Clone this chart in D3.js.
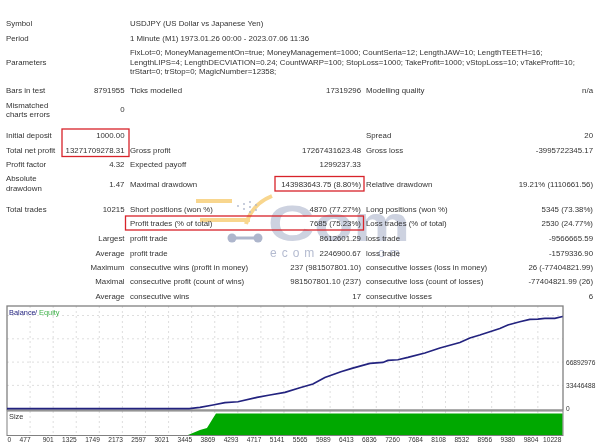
<!DOCTYPE html>
<html>
<head>
<meta charset="utf-8">
<script src="https://cdn.jsdelivr.net/npm/d3@7"></script>
<style>
body { margin: 0; background: #fff; }
svg { display: block; }
text { font-family: "Liberation Sans", sans-serif; font-size: 7.85px; fill: #333; }
.tick text { font-size: 6.6px; }
</style>
</head>
<body>
<svg id="report" width="600" height="446"></svg>
<script>
// report table, one array per kind of row
let headerRows = [
    ["Symbol", "USDJPY (US Dollar vs Japanese Yen)", 23],
    ["Period", "1 Minute (M1) 1973.01.26 00:00 - 2023.07.06 11:36", 38]
]
let paramLines = [
    "FixLot=0; MoneyManagementOn=true; MoneyManagement=1000; CountSeria=12; LengthJAW=10; LengthTEETH=16;",
    "LengthLIPS=4; LengthDECVIATION=0.24; CountWARP=100; StopLoss=1000; TakeProfit=1000; vStopLoss=10; vTakeProfit=10;",
    "trStart=0; trStop=0; MagicNumber=12358;"
]
// label, value, label, value, label, value, baseline
let statRows = [
    ["Bars in test", "8791955", "Ticks modelled", "17319296", "Modelling quality", "n/a", 93],
    ["", "0", "", "", "", "", 112],
    ["Initial deposit", "1000.00", "", "", "Spread", "20", 138],
    ["Total net profit", "13271709278.31", "Gross profit", "17267431623.48", "Gross loss", "-3995722345.17", 152.5],
    ["Profit factor", "4.32", "Expected payoff", "1299237.33", "", "", 167],
    ["", "1.47", "Maximal drawdown", "143983643.75 (8.80%)", "Relative drawdown", "19.21% (1110661.56)", 186.5],
    ["Total trades", "10215", "Short positions (won %)", "4870 (77.27%)", "Long positions (won %)", "5345 (73.38%)", 212],
    ["", "", "Profit trades (% of total)", "7685 (75.23%)", "Loss trades (% of total)", "2530 (24.77%)", 226]
]
let twoLineLabels = [
    ["Mismatched", 107.5], ["charts errors", 117],
    ["Absolute", 181], ["drawdown", 190.5]
]
// these rows have their first label right aligned
let tradeRows = [
    ["Largest", "profit trade", "8612601.29", "loss trade", "-9566665.59", 241],
    ["Average", "profit trade", "2246900.67", "loss trade", "-1579336.90", 255.5],
    ["Maximum", "consecutive wins (profit in money)", "237 (981507801.10)", "consecutive losses (loss in money)", "26 (-77404821.99)", 270],
    ["Maximal", "consecutive profit (count of wins)", "981507801.10 (237)", "consecutive loss (count of losses)", "-77404821.99 (26)", 284],
    ["Average", "consecutive wins", "17", "consecutive losses", "6", 299]
]

// balance curve
let tradeIndex = [0, 3400, 3598, 3837, 4057, 4296, 4645, 4883, 5159, 5434, 5673, 5893, 6187, 6389, 6719, 6958, 7050, 7233, 7417, 7729, 8005, 8372, 8556, 8739, 9106, 9253, 9473, 9657, 9804, 9932, 10116, 10260]
let balance = [1000, 1000, 1900000, 5300000, 8600000, 10000000, 16200000, 19700000, 23400000, 30100000, 35400000, 44900000, 53100000, 57800000, 65000000, 66400000, 69300000, 70300000, 73600000, 79900000, 87100000, 95100000, 101500000, 105800000, 115200000, 120100000, 124800000, 128100000, 128700000, 129600000, 129600000, 132400000]
// size panel, share of the full height
let sizeIndex = [3378, 3598, 3727, 3837, 3892, 10260]
let sizeValues = [0, 23, 33, 78, 100, 100]

let xTicks = [0, 477, 901, 1325, 1749, 2173, 2597, 3021, 3445, 3869, 4293, 4717, 5141, 5565, 5989, 6413, 6836, 7260, 7684, 8108, 8532, 8956, 9380, 9804, 10228]
let yTicks = [0, 33446488, 66892976]
let yGrid = [33446488, 66892976, 100339464, 133785952]

let svg = d3.select("#report")
let page = svg.append("g").style("filter", "blur(0.35px)")

// columns of the table
let col = { label1: 6, value1: 124.5, label2: 130, value2: 361, label3: 366, value3: 593 }

function put(x, y, str, anchor) {
    return page.append("text").attr("x", x).attr("y", y).attr("text-anchor", anchor || "start").text(str)
}

// watermark goes under the text
let mark = page.append("g")
mark.append("path")
    .attr("d", "M196 201H232M200 220H250M272 196Q252 204 246 224")
    .attr("fill", "none").attr("stroke", "#f8d68e").attr("stroke-width", 4)
mark.selectAll("circle.dot").data([[238, 206], [244, 204], [250, 202], [244, 209], [250, 207], [256, 205], [250, 212], [256, 210]]).enter().append("circle")
    .attr("class", "dot").attr("cx", d => d[0]).attr("cy", d => d[1]).attr("r", 0.9).style("fill", "#aeb6cc")
mark.append("path")
    .attr("d", "M232 238H258")
    .attr("fill", "none").attr("stroke", "#aeb6cc").attr("stroke-width", 3)
mark.selectAll("circle.wheel").data([232, 258]).enter().append("circle")
    .attr("class", "wheel").attr("cx", d => d).attr("cy", 238).attr("r", 4.5).style("fill", "#aeb6cc")
mark.append("text").attr("x", 268).attr("y", 241).attr("textLength", 142).attr("lengthAdjust", "spacingAndGlyphs")
    .style("font-size", "50px").style("font-weight", "bold").style("fill", "#cdd2e0").text("Com")
mark.append("text").attr("x", 270).attr("y", 257)
    .style("font-size", "12px").style("letter-spacing", "5px").style("fill", "#b4bbd0").text("ecom")
mark.append("text").attr("x", 378).attr("y", 257)
    .style("font-size", "12px").style("letter-spacing", "5px").style("fill", "#b4bbd0").text("om")

headerRows.forEach(function (d) {
    put(col.label1, d[2] + 3, d[0])
    put(col.label2, d[2] + 3, d[1])
})
put(col.label1, 65, "Parameters")
paramLines.forEach(function (d, i) {
    put(col.label2, [55, 65, 74][i], d)
})
statRows.forEach(function (d) {
    put(col.label1, d[6], d[0])
    put(col.value1, d[6], d[1], "end")
    put(col.label2, d[6], d[2])
    put(col.value2, d[6], d[3], "end")
    put(col.label3, d[6], d[4])
    put(col.value3, d[6], d[5], "end")
})
twoLineLabels.forEach(function (d) { put(col.label1, d[1], d[0]) })
tradeRows.forEach(function (d) {
    put(col.value1, d[5], d[0], "end")
    put(col.label2, d[5], d[1])
    put(col.value2, d[5], d[2], "end")
    put(col.label3, d[5], d[3])
    put(col.value3, d[5], d[4], "end")
})

// red boxes
let redBoxes = [[62, 129, 67, 27.5], [275, 176.5, 89, 14.5], [125.5, 216, 238, 14]]
page.selectAll("rect.redbox").data(redBoxes).enter().append("rect")
    .attr("class", "redbox")
    .attr("x", d => d[0]).attr("y", d => d[1])
    .attr("width", d => d[2]).attr("height", d => d[3])
    .attr("fill", "none").attr("stroke", "#d8232a").attr("stroke-width", 1.3)

// scales, the ticks sit at even steps on screen
let left = 7, right = 563, step = 23.08
let xScale = d3.scaleLinear()
    .domain(xTicks)
    .range(xTicks.map((d, i) => left + i * step))
let yScale = d3.scaleLinear().domain([0, 33446488]).range([408.7, 385.4])
let sizeScale = d3.scaleLinear().domain([0, 100]).range([435, 413.5])

// gridlines
let grid = page.append("g").attr("stroke", "#d6d6d6").attr("stroke-dasharray", "2,3").attr("stroke-width", 0.8)
grid.selectAll("line.gx").data(xTicks.slice(1, -1)).enter().append("line")
    .attr("class", "gx").attr("x1", d => xScale(d)).attr("x2", d => xScale(d)).attr("y1", 306).attr("y2", 435)
grid.selectAll("line.gy").data(yGrid).enter().append("line")
    .attr("class", "gy").attr("x1", left).attr("x2", right).attr("y1", d => yScale(d)).attr("y2", d => yScale(d))

// size area
let area = d3.area()
    .x((d, i) => xScale(sizeIndex[i]))
    .y0(sizeScale(0))
    .y1(d => sizeScale(d))
page.append("path").datum(sizeValues).attr("d", area).style("fill", "#00a800")

// frames
page.append("rect").attr("x", left).attr("y", 306).attr("width", right - left).attr("height", 104)
    .attr("fill", "none").attr("stroke", "#808080").attr("stroke-width", 1.3)
page.append("rect").attr("x", left).attr("y", 411).attr("width", right - left).attr("height", 24.5)
    .attr("fill", "none").attr("stroke", "#808080").attr("stroke-width", 1)

// balance line
let line = d3.line()
    .x((d, i) => xScale(tradeIndex[i]))
    .y(d => yScale(d))
page.append("path").datum(balance).attr("d", line)
    .attr("fill", "none").attr("stroke", "#23237f").attr("stroke-width", 1.7)

// legend
put(9, 315, "Balance").style("fill", "#23237f").style("font-size", "7.4px")
put(35, 315, "/").style("fill", "#23237f").style("font-size", "7.4px")
put(39, 315, "Equity").style("fill", "#3fb24a").style("font-size", "7.4px")
put(9, 419, "Size").style("font-size", "7.4px")

// axes
let xAxis = d3.axisBottom(xScale).tickValues(xTicks).tickFormat(d3.format("d")).tickSize(0).tickPadding(0)
let xAxisGroup = page.append("g").attr("transform", "translate(0,438)").call(xAxis)
xAxisGroup.select(".domain").remove()
xAxisGroup.selectAll("text").attr("text-anchor", d => d == 0 ? "start" : "end").attr("dy", "0.55em").attr("y", 0)

let yAxis = d3.axisRight(yScale).tickValues(yTicks).tickFormat(d3.format("d")).tickSize(0).tickPadding(0)
let yAxisGroup = page.append("g").attr("transform", "translate(566,0)").call(yAxis)
yAxisGroup.select(".domain").remove()
</script>
</body>
</html>
